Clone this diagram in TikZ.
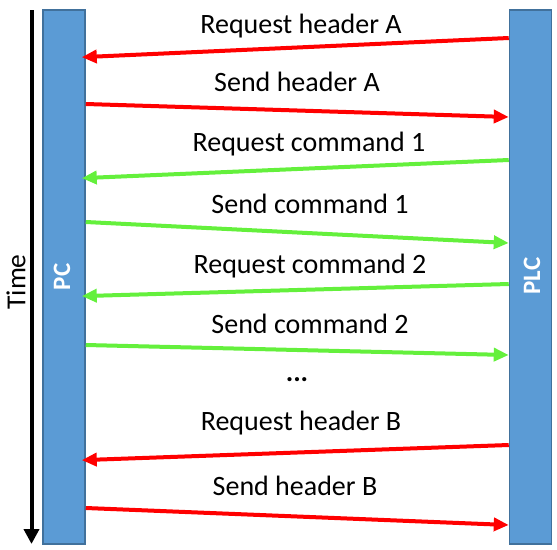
\documentclass[tikz,border=0pt]{standalone}
\usepackage{fontspec}
\setmainfont{Carlito}
\usetikzlibrary{arrows.meta}
\definecolor{barfill}{RGB}{91,155,213}
\definecolor{barline}{RGB}{65,113,156}
\definecolor{msgred}{RGB}{255,0,0}
\definecolor{msggreen}{RGB}{100,240,60}
\tikzset{
  bar/.style={draw=barline, line width=1.5pt, fill=barfill, minimum width=42pt, minimum height=534pt, inner sep=0pt},
  barlabel/.style={text=white, font=\fontsize{25}{28}\selectfont\bfseries, rotate=90},
  msg/.style={line width=4pt, -{Triangle[length=15pt,width=13pt]}},
  redmsg/.style={msg, draw=msgred},
  greenmsg/.style={msg, draw=msggreen},
  reqmsg/.style={shorten >=-4pt},
  lbl/.style={anchor=base, inner sep=0pt, font=\fontsize{28}{32}\selectfont},
}
\begin{document}
\begin{tikzpicture}[x=1pt,y=-1pt]
\useasboundingbox (0,0) rectangle (557,549);
% bars
\node[bar] (pc) at (64,277) {};
\node[bar] (plc) at (530.5,277) {};
\node[barlabel] (pclbl) at (62,277) {PC};
\node[barlabel] (plclbl) at (532,276) {PLC};
% time axis
\coordinate (tstart) at (31.5,10);
\coordinate (tend) at (31.5,544);
\draw[line width=4pt, -{Triangle[length=15pt,width=15pt]}] (tstart) -- (tend);
\node[rotate=90, font=\fontsize{27.5}{30}\selectfont] (time) at (16,282) {Time};
% messages
\draw[redmsg, reqmsg] (plc.west |- 0,38) -- (pc.east |- 0,57);
\draw[redmsg] (pc.east |- 0,104) -- (plc.west |- 0,117);
\draw[greenmsg, reqmsg] (plc.west |- 0,160) -- (pc.east |- 0,178);
\draw[greenmsg] (pc.east |- 0,222) -- (plc.west |- 0,243);
\draw[greenmsg, reqmsg] (plc.west |- 0,284) -- (pc.east |- 0,296);
\draw[greenmsg] (pc.east |- 0,345) -- (plc.west |- 0,355);
\draw[redmsg, reqmsg] (plc.west |- 0,445) -- (pc.east |- 0,460);
\draw[redmsg] (pc.east |- 0,508) -- (plc.west |- 0,525);
% labels
\node[lbl] (l1) at (301,33) {Request header A};
\node[lbl] (l2) at (297,91) {Send header A};
\node[lbl] (l3) at (309,151) {Request command 1};
\node[lbl] (l4) at (310,213) {Send command 1};
\node[lbl] (l5) at (310,273) {Request command 2};
\node[lbl] (l6) at (310,333) {Send command 2};
\node[lbl] (l7) at (297,381) {\textbf{...}};
\node[lbl] (l8) at (301,430) {Request header B};
\node[lbl] (l9) at (295,495) {Send header B};
\end{tikzpicture}
\end{document}
